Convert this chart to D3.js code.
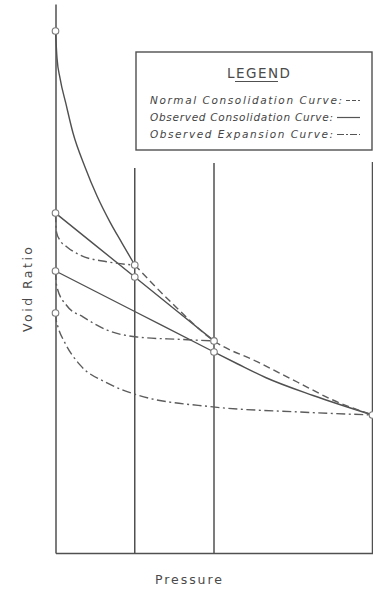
<!DOCTYPE html>
<html>
<head>
<meta charset="utf-8">
<script src="https://cdn.jsdelivr.net/npm/d3@7"></script>
<style>
  html, body { margin: 0; padding: 0; background: #ffffff; }
  svg { display: block; }
  text { font-family: "DejaVu Sans", "Liberation Sans", sans-serif; fill: #4a4a4a; }
</style>
</head>
<body>
<svg id="chart" width="373" height="590"></svg>
<script>
// Pressure levels at which the sample was loaded (arbitrary units)
const pressureLevels = [1, 2, 4];

// Observed consolidation, first loading from the initial void ratio
const firstLoading = [[0, 1.74], [0.019, 1.65], [0.057, 1.583], [0.132, 1.497], [0.221, 1.40],
  [0.372, 1.287], [0.524, 1.19], [0.688, 1.103], [0.839, 1.033], [1, 0.96]];

// Observed consolidation, reloading after each expansion
const reloadOne = [[0, 1.133], [1, 0.92], [2, 0.707]];
const reloadTwo = [[0, 0.94], [1, 0.805], [2, 0.67], [2.3, 0.63], [2.65, 0.585], [3.25, 0.525], [4, 0.46]];

// Normal consolidation curve
const normalCurve = [[1, 0.96], [1.5, 0.825], [2, 0.707], [2.55, 0.637], [3.05, 0.57], [3.5, 0.51], [4, 0.46]];

// Observed expansion curves (unloading back to zero pressure)
const expansionOne = [[0, 1.133], [0.004, 1.10], [0.015, 1.067], [0.05, 1.045], [0.141, 1.021],
  [0.309, 0.993], [0.646, 0.971], [0.94, 0.961], [1, 0.96]];
const expansionTwo = [[0, 0.94], [0.006, 0.91], [0.025, 0.88], [0.141, 0.825], [0.347, 0.787],
  [0.65, 0.743], [1.028, 0.72], [1.57, 0.712], [2, 0.707]];
const expansionThree = [[0, 0.80], [0.01, 0.775], [0.032, 0.753], [0.12, 0.70], [0.309, 0.627],
  [0.65, 0.567], [1.028, 0.527], [1.987, 0.487], [3.085, 0.47], [4, 0.46]];

// Observed readings marked with small circles
const readings = [[0, 1.74], [0, 1.133], [0, 0.94], [0, 0.80], [1, 0.96], [1, 0.92], [2, 0.707], [2, 0.67], [4, 0.46]];

// Legend entries
const legendTitle = "LEGEND";
const legendLabels = ["Normal Consolidation Curve:", "Observed Consolidation Curve:", "Observed Expansion Curve:"];
const legendStyles = ["dashed", "solid", "dashdot"];

const xTitle = "Pressure";
const yTitle = "Void Ratio";

// ---- drawing ----
const svg = d3.select("#chart");
const ink = "#505050";
const dashes = { solid: null, dashed: "7,4", dashdot: "9,3.5,2,3.5" };

const x = d3.scaleLinear().domain([0, 4]).range([55.5, 372.5]);
const y = d3.scaleLinear().domain([0, 1.83]).range([553, 4]);

// Frame: void-ratio axis and pressure axis, no ticks
const yAxis = svg.append("g").attr("transform", `translate(${x(0)},0)`)
  .call(d3.axisLeft(y).tickValues([]).tickSizeOuter(0));
const xAxis = svg.append("g").attr("transform", `translate(0,${y(0)})`)
  .call(d3.axisBottom(x).tickValues([]).tickSizeOuter(0));
[yAxis, xAxis].forEach(g => g.select(".domain").attr("stroke", ink).attr("stroke-width", 1.5));

// Vertical pressure lines
const lineTops = { 1: 1.283, 2: 1.30, 4: 1.303 };
svg.append("g").selectAll("line").data(pressureLevels).join("line")
  .attr("x1", d => x(d)).attr("x2", d => x(d))
  .attr("y1", d => y(lineTops[d])).attr("y2", y(0))
  .attr("stroke", ink).attr("stroke-width", 1.5);

const line = d3.line().x(d => x(d[0])).y(d => y(d[1])).curve(d3.curveMonotoneX);

const curves = [
  { data: firstLoading, style: "solid" },
  { data: reloadOne, style: "solid" },
  { data: reloadTwo, style: "solid" },
  { data: normalCurve, style: "dashed" },
  { data: expansionOne, style: "dashdot" },
  { data: expansionTwo, style: "dashdot" },
  { data: expansionThree, style: "dashdot" }
];

svg.append("g").selectAll("path").data(curves).join("path")
  .attr("d", d => line(d.data))
  .attr("fill", "none")
  .attr("stroke", d => d.style === "solid" ? ink : "#5c5c5c")
  .attr("stroke-width", 1.4)
  .attr("stroke-dasharray", d => dashes[d.style]);

svg.append("g").selectAll("circle").data(readings).join("circle")
  .attr("cx", d => x(d[0])).attr("cy", d => y(d[1]))
  .attr("r", 3.3)
  .attr("fill", "#ffffff")
  .attr("stroke", "#7a7a7a")
  .attr("stroke-width", 1.1);

// Legend box
const lg = svg.append("g");
lg.append("rect").attr("x", 136).attr("y", 52).attr("width", 236).attr("height", 98)
  .attr("fill", "#ffffff").attr("stroke", ink).attr("stroke-width", 1.4);
lg.append("text").attr("x", 227).attr("y", 78)
  .attr("textLength", 63).attr("lengthAdjust", "spacing")
  .style("font-size", "13.5px").style("fill", "#4a4a4a").text(legendTitle);
lg.append("line").attr("x1", 235).attr("x2", 278).attr("y1", 81.5).attr("y2", 81.5)
  .attr("stroke", ink).attr("stroke-width", 1);

const rowY = [104, 121, 138];
const rowEnd = [342, 333, 333];
lg.selectAll("text.row").data(legendLabels).join("text").attr("class", "row")
  .attr("x", 150).attr("y", (d, i) => rowY[i])
  .attr("textLength", (d, i) => rowEnd[i] - 150).attr("lengthAdjust", "spacing")
  .style("font-size", "10.5px").style("font-style", "italic")
  .style("fill", "#444")
  .text(d => d);
lg.selectAll("line.sample").data(legendStyles).join("line").attr("class", "sample")
  .attr("x1", (d, i) => rowEnd[i] + 4).attr("x2", 360)
  .attr("y1", (d, i) => rowY[i] - 3.5).attr("y2", (d, i) => rowY[i] - 3.5)
  .attr("stroke", "#555").attr("stroke-width", 1.2)
  .attr("stroke-dasharray", d => d === "dashed" ? "4,2" : d === "dashdot" ? "7,2,2,2" : null);

// Axis titles
svg.append("text").attr("x", 155).attr("y", 584)
  .attr("textLength", 67).attr("lengthAdjust", "spacing")
  .style("font-size", "12.5px").text(xTitle);
svg.append("text").attr("transform", "translate(31.5,289.5) rotate(-90)")
  .attr("text-anchor", "middle")
  .attr("textLength", 85).attr("lengthAdjust", "spacing")
  .style("font-size", "12.5px").text(yTitle);
</script>
</body>
</html>
